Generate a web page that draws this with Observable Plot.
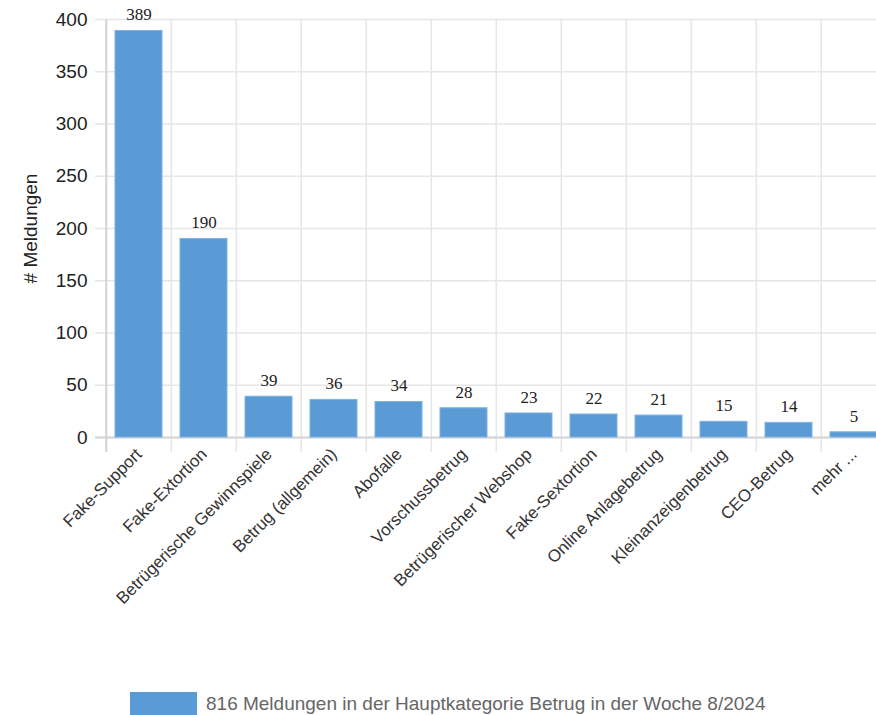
<!DOCTYPE html>
<html><head><meta charset="utf-8">
<script src="https://cdn.jsdelivr.net/npm/d3@7"></script>
<script src="https://cdn.jsdelivr.net/npm/@observablehq/plot@0.6"></script>
<style>
html,body{margin:0;padding:0;overflow:hidden;background:#fff;width:876px;height:715px}
#chart{position:absolute;left:0;top:0}
#legend{position:absolute;left:130px;top:692px;display:flex;align-items:center;font-family:"Liberation Sans",Arial,sans-serif;font-size:19px;color:#666;white-space:nowrap}
#legend .sw{display:inline-block;width:67px;height:23px;background:#5b9bd5;margin-right:9px}
</style></head><body>
<div id="chart"></div>
<div id="legend"><span class="sw"></span><span id="legendText"></span></div>
<script>
const categories = ["Fake-Support","Fake-Extortion","Betrügerische Gewinnspiele","Betrug (allgemein)","Abofalle","Vorschussbetrug","Betrügerischer Webshop","Fake-Sextortion","Online Anlagebetrug","Kleinanzeigenbetrug","CEO-Betrug","mehr ..."];
const values = [389,190,39,36,34,28,23,22,21,15,14,5];
const yTicks = [0,50,100,150,200,250,300,350,400];
const yLabel = "# Meldungen";
const legendLabel = "816 Meldungen in der Hauptkategorie Betrug in der Woche 8/2024";

const data = categories.map((c, i) => ({category: c, value: values[i]}));

const W = 888, ML = 103, MR = 0;
const step = (W - ML - MR) / categories.length;

const chart = Plot.plot({
  width: W, height: 690,
  marginLeft: ML, marginRight: MR, marginTop: 19, marginBottom: 253,
  style: {maxWidth: "none", fontFamily: "Liberation Sans, Arial, sans-serif", background: "transparent"},
  x: {domain: categories, paddingInner: 0.28, paddingOuter: 0.14, align: 0.5},
  y: {domain: [0, 400]},
  marks: [
    Plot.ruleY(yTicks, {stroke: "#e6e6e6", strokeWidth: 1.5, insetLeft: -8}),
    Plot.ruleX(categories, {x: d => d, dx: -step / 2, stroke: "#e6e6e6", strokeWidth: 1.5, insetBottom: -15}),
    Plot.ruleX([categories[0]], {x: d => d, dx: -step / 2, stroke: "#d4d4d4", strokeWidth: 2, insetBottom: -15}),
    Plot.ruleY([0], {stroke: "#d4d4d4", strokeWidth: 2, insetLeft: -8}),
    Plot.barY(data, {x: "category", y: "value", fill: "#5b9bd5", stroke: "#7db2e2", strokeWidth: 1}),
    Plot.text(data, {x: "category", y: "value", text: d => String(d.value), dy: -16, fontFamily: "Liberation Serif, Times New Roman, serif", fontSize: 17, fill: "#222"}),
    Plot.axisY({ticks: yTicks, tickSize: 0, tickPadding: 16, fontSize: 19, fill: "#222", label: null}),
    Plot.axisX({tickSize: 0, tickRotate: -45, tickPadding: 14, fontSize: 17, fill: "#333", label: null}),
    Plot.text([yLabel], {frameAnchor: "left", textAnchor: "middle", text: d => d, rotate: -90, dx: -73, fontSize: 19, fill: "#222"})
  ]
});
document.getElementById("chart").appendChild(chart);
document.getElementById("legendText").textContent = legendLabel;
</script>
</body></html>
